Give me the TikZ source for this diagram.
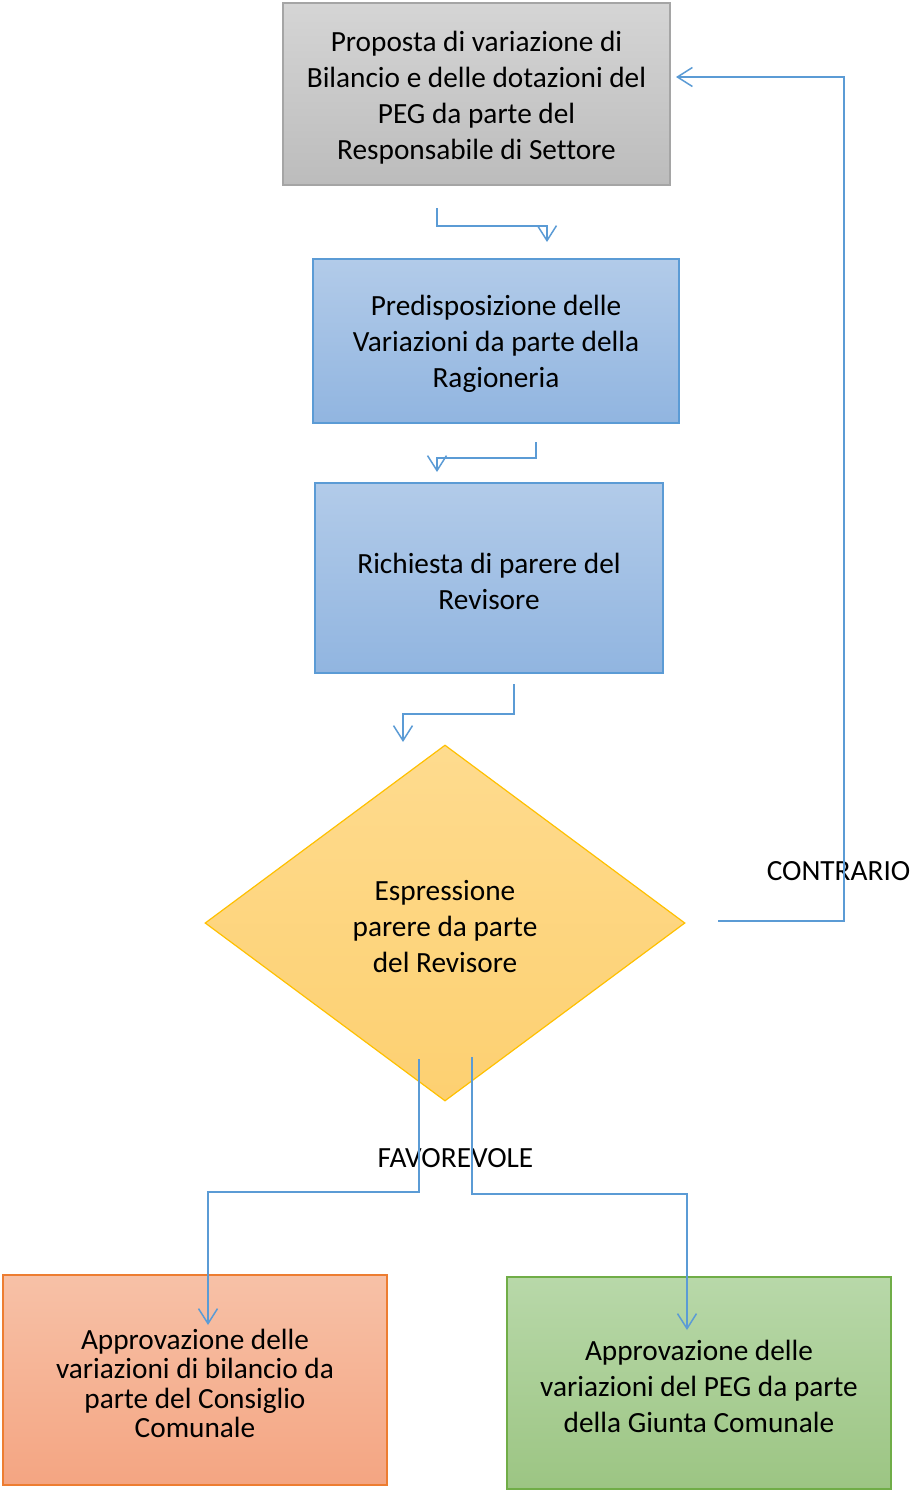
\documentclass[tikz,border=0pt]{standalone}
\usepackage{fontspec}
\setmainfont[Ligatures=NoCommon]{Carlito}
\usetikzlibrary{shapes.geometric,arrows.meta}
\definecolor{conn}{HTML}{5B9BD5}
\definecolor{grayT}{HTML}{D5D5D5}
\definecolor{grayB}{HTML}{BCBCBC}
\definecolor{grayL}{HTML}{A5A5A5}
\definecolor{blueT}{HTML}{B2CBE9}
\definecolor{blueB}{HTML}{91B5E0}
\definecolor{blueL}{HTML}{5B9BD5}
\definecolor{yelT}{HTML}{FEDB8E}
\definecolor{yelB}{HTML}{FDD071}
\definecolor{yelL}{HTML}{FFC000}
\definecolor{orT}{HTML}{F7C1A7}
\definecolor{orB}{HTML}{F4A582}
\definecolor{orL}{HTML}{ED7D31}
\definecolor{grT}{HTML}{B8D8A9}
\definecolor{grB}{HTML}{9CC583}
\definecolor{grL}{HTML}{70AD47}
\newcommand{\tpad}{\rule{0pt}{27pt}}
\begin{document}
\begin{tikzpicture}[x=1pt,y=-1pt,
  box/.style={draw, line width=1.2pt, inner sep=0pt, align=center,
    font=\fontsize{29.3}{36}\selectfont},
  graybox/.style={box, top color=grayT, bottom color=grayB, draw=grayL},
  bluebox/.style={box, top color=blueT, bottom color=blueB, draw=blueL},
  decision/.style={box, diamond, top color=yelT, bottom color=yelB, draw=yelL},
  orbox/.style={box, top color=orT, bottom color=orB, draw=orL,
    font=\fontsize{29.3}{29.5}\selectfont},
  grbox/.style={box, top color=grT, bottom color=grB, draw=grL},
  lbl/.style={font=\fontsize{29.3}{36}\selectfont, inner sep=0pt},
  connector/.style={draw=conn, line width=1.5pt,
    -{Straight Barb[length=15pt,width=19pt,line width=1.5pt]}}
]
\useasboundingbox (0,0) rectangle (915,1493);

\node[graybox, minimum width=387pt, minimum height=182pt] (b1) at (476.5,94)
  {\tpad Proposta di variazione di\\Bilancio e delle dotazioni del\\PEG da parte del\\Responsabile di Settore};
\node[bluebox, minimum width=366pt, minimum height=164pt] (b2) at (496,341)
  {\tpad Predisposizione delle\\Variazioni da parte della\\Ragioneria};
\node[bluebox, minimum width=348pt, minimum height=190pt] (b3) at (489,578)
  {\tpad Richiesta di parere del\\Revisore};
\node[decision, minimum width=480pt, minimum height=356pt] (d) at (445,923)
  {\tpad Espressione\\parere da parte\\del Revisore};
\node[orbox, minimum width=384pt, minimum height=210pt] (o) at (195,1380)
  {\tpad Approvazione delle\\variazioni di bilancio da\\parte del Consiglio\\Comunale};
\node[grbox, minimum width=384pt, minimum height=212pt] (g) at (699,1383)
  {\tpad Approvazione delle\\variazioni del PEG da parte\\della Giunta Comunale};

\node[lbl] (contr) at (838.5,871) {CONTRARIO};
\node[lbl] (fav) at (455.5,1158) {FAVOREVOLE};

\coordinate (s1) at (437,208);  \coordinate (e1) at (547,242);
\coordinate (s2) at (536,442);  \coordinate (e2) at (437,472);
\coordinate (s3) at (514,684);  \coordinate (e3) at (403,742);
\coordinate (s4) at (718,921);  \coordinate (e4) at (676,77);
\coordinate (s5) at (419,1059); \coordinate (e5) at (208,1325);
\coordinate (s6) at (472,1057); \coordinate (e6) at (687,1330);

\draw[connector] (s1) |- ([yshift=16pt]e1) -- (e1);
\draw[connector] (s2) |- ([yshift=14pt]e2) -- (e2);
\draw[connector] (s3) |- ([yshift=28pt]e3) -- (e3);
\draw[connector] (s4) -| ([xshift=168pt]e4) -- (e4);
\draw[connector] (s5) |- ([yshift=133pt]e5) -- (e5);
\draw[connector] (s6) |- ([yshift=136pt]e6) -- (e6);
\end{tikzpicture}
\end{document}
